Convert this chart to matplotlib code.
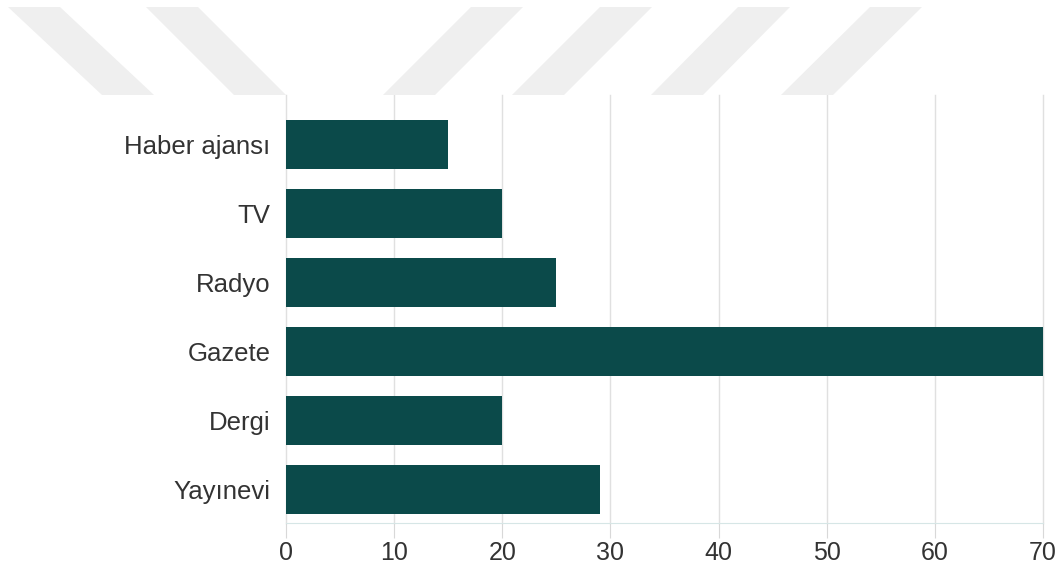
import matplotlib.pyplot as plt
from matplotlib.patches import Polygon

categories = ["Haber ajansı", "TV", "Radyo", "Gazete", "Dergi", "Yayınevi"]
values = [15, 20, 25, 70, 20, 29]
xticks = [0, 10, 20, 30, 40, 50, 60, 70]

plt.rcParams['font.family'] = ['Liberation Sans', 'DejaVu Sans']

fig = plt.figure(figsize=(10.63, 5.73), dpi=100)
W, H = 1063, 573

# light watermark stripes at the top (pixel coords: top-left x, bottom-left x)
stripes = [(8, 102), (146, 234), (471, 383), (600, 512), (738, 651), (870, 781)]
for xt, xb in stripes:
    pts = [(xt, 7), (xt + 52, 7), (xb + 52, 95), (xb, 95)]
    pts = [(px / W, 1 - py / H) for px, py in pts]
    fig.patches.append(Polygon(pts, closed=True, transform=fig.transFigure,
                               facecolor='#efefef', edgecolor='none', zorder=0))

ax = fig.add_axes([286 / W, 50 / H, (1043 - 286) / W, (523 - 95) / H])
ax.patch.set_alpha(0)
ypos = list(range(len(categories)))
ax.barh(ypos, values, height=0.7, color='#0b4a4a', zorder=3)
ax.set_ylim(5.486, -0.717)
ax.set_xlim(0, 70)
ax.set_yticks(ypos)
ax.set_yticklabels(categories, fontsize=18.5, color='#333333')
ax.set_xticks(xticks)
ax.set_xticklabels([str(t) for t in xticks], fontsize=18, color='#333333')
ax.tick_params(axis='y', length=0, pad=11)
ax.tick_params(axis='x', length=11, color='#d8d8d8', pad=2)
ax.grid(axis='x', color='#e0e0e0', linewidth=1, zorder=0, clip_on=False)
for s in ['top', 'right', 'left']:
    ax.spines[s].set_visible(False)
ax.spines['bottom'].set_color('#d6e6e6')

fig.savefig('out.png', dpi=100)
